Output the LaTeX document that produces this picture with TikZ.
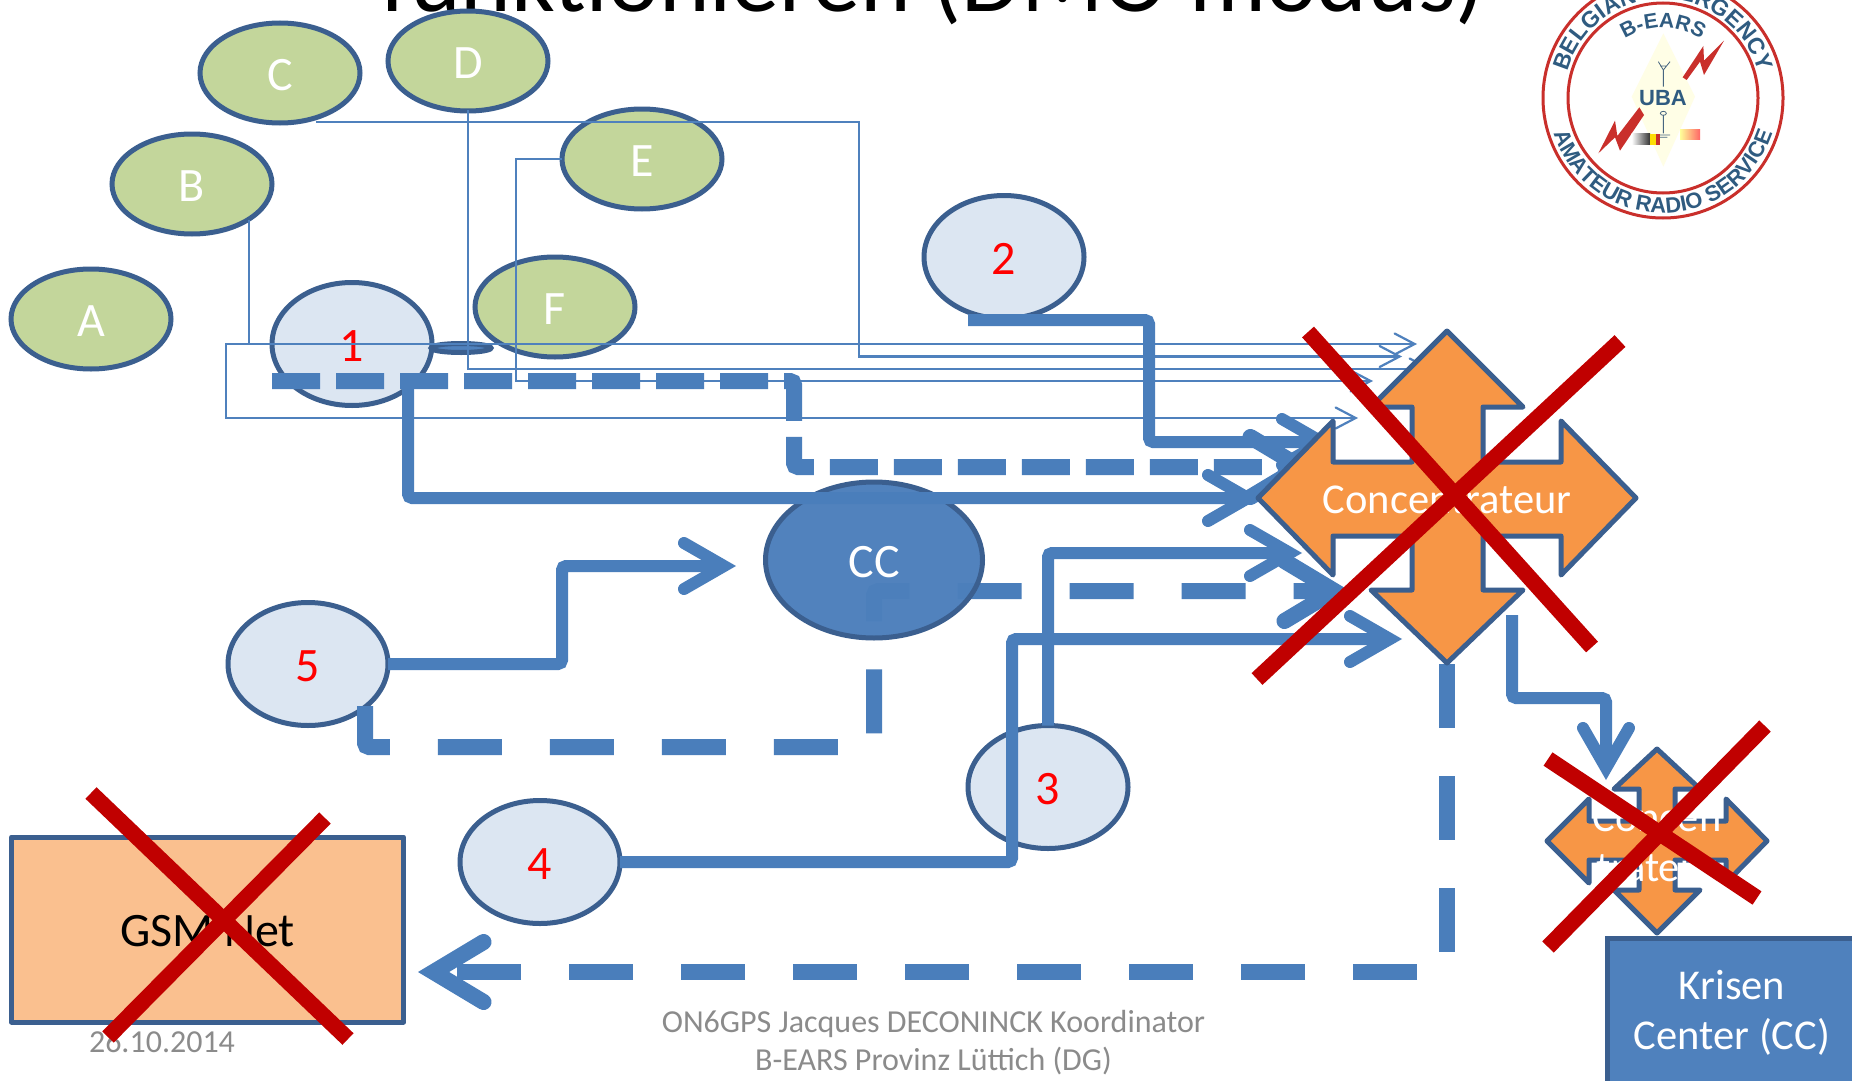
\documentclass[tikz,border=0pt]{standalone}
\usepackage{fontspec}
\setmainfont{Carlito}
\newfontfamily\logofont{Liberation Sans}
\usetikzlibrary{shapes.geometric,arrows.meta,decorations.text}
\definecolor{thinblue}{HTML}{4F81BD}
\definecolor{thickblue}{HTML}{4A7EBB}
\definecolor{edgeblue}{HTML}{3B5F8F}
\definecolor{leaf}{HTML}{C3D69B}
\definecolor{pale}{HTML}{DCE6F2}
\definecolor{ccblue}{HTML}{4D80BC}
\definecolor{boxblue}{HTML}{4F81BD}
\definecolor{starorange}{HTML}{F79646}
\definecolor{gsmorange}{HTML}{FAC08F}
\definecolor{crossred}{HTML}{C00000}
\definecolor{footgrey}{HTML}{8B8B8B}
\definecolor{logoblue}{HTML}{2F5B80}
\definecolor{logored}{HTML}{C92F2B}
\newcommand{\lab}{\fontsize{42.5}{50}\selectfont}
\newcommand{\ovaltext}[1]{\rule{0pt}{35pt}#1}
\tikzset{
  oval/.style={ellipse,draw=edgeblue,line width=5pt,minimum width=160pt,minimum height=100pt,inner sep=0pt,outer sep=0pt,text=white,font=\fontsize{48}{56}\selectfont},
  leafoval/.style={oval,fill=leaf},
  numoval/.style={oval,fill=pale,text=red,minimum height=123pt},
  thinline/.style={draw=thinblue,line width=2.2pt,-{Straight Barb[length=20pt,width=21pt,line cap=round,line join=miter]}},
  thickline/.style={draw=thickblue,line width=12pt,rounded corners=4pt,-{Straight Barb[length=40pt,width=46pt,line cap=round,line join=miter]}},
  dashA/.style={draw=thickblue,line width=16pt,rounded corners=4pt,dash pattern=on 48pt off 16pt,-{Straight Barb[length=50pt,width=60pt,line cap=round,line join=miter]}},
  dashB/.style={draw=thickblue,line width=16pt,rounded corners=4pt,dash pattern=on 64pt off 48pt,-{Straight Barb[length=50pt,width=60pt,line cap=round,line join=miter]}},
  startedge/.style={draw=edgeblue,fill=starorange,line width=5pt,line join=round},
  crossbar/.style={draw=crossred,line width=16pt},
  foot/.style={text=footgrey,font=\fontsize{32}{38}\selectfont,align=center,inner sep=0pt},
  whitetext/.style={text=white,font=\lab,inner sep=0pt,align=center},
}
\begin{document}
\begin{tikzpicture}[x=1pt,y=-1pt]
\useasboundingbox (0,0) rectangle (1852,1081);
\clip (0,0) rectangle (1852,1081);
\fill[white] (0,0) rectangle (1852,1081);

% title
\node[anchor=base,inner sep=0pt,font=\fontsize{96.4}{110}\selectfont] (title) at (933,12) {funktionieren (DMO modus)};

% logo
\begin{scope}[shift={(1500,0)},x=.33333pt,y=-.33333pt]
  \fill[yellow!10!white] (490,100)--(585,290)--(490,500)--(395,290)--cycle;
  \fill[logored] (548,232)--(610,138)--(612,182)--(672,122)--(612,225)--(600,185)--(560,240)--cycle;
  \fill[logored] (295,460)--(345,362)--(352,408)--(418,322)--(432,345)--(360,452)--(345,412)--cycle;
  \draw[logoblue!70!gray,line width=.8pt] (490,210)--(490,260) (475,185)--(490,210)--(510,185) (480,198)--(500,198) (490,345)--(490,400)
     (470,405)--(510,405) (478,412)--(502,412);
  \draw[logoblue!70!gray,line width=.8pt] (490,340) circle[x radius=9,y radius=6];
  \shade[left color=white,right color=black!80] (395,402) rectangle (450,435);
  \fill[yellow!80!orange] (450,402) rectangle (468,435);
  \fill[logored] (468,402) rectangle (480,435);
  \shade[left color=yellow!40!white,right color=red!60!white] (540,388) rectangle (600,420);
\end{scope}
\begin{scope}[shift={(1663,98)},x=1pt,y=1pt]
  \draw[logored,line width=3pt] (0,0) circle[radius=120];
  \draw[logored,line width=3pt] (0,0) circle[radius=95];
  \path[decorate,decoration={text along path,text align=center,text={|\logofont\bfseries\fontsize{23}{23}\selectfont\color{logoblue}|BELGIAN   EMERGENCY}}]
     (200:99) arc[start angle=200,end angle=-20,radius=99];
  \path[decorate,decoration={text along path,text align=center,text={|\logofont\bfseries\fontsize{21}{21}\selectfont\color{logoblue}|B-EARS}}]
     (150:70) arc[start angle=150,end angle=30,radius=70];
  \path[decorate,decoration={text along path,text align=center,text={|\logofont\bfseries\fontsize{22}{22}\selectfont\color{logoblue}|AMATEUR RADIO SERVICE}}]
     (170:115) arc[start angle=170,end angle=370,radius=115];
  \node[inner sep=0pt,text=logoblue,font=\logofont\bfseries\fontsize{22}{22}\selectfont] (uba) at (0,0) {UBA};
\end{scope}

% ovals
\node[leafoval] (A) at (91,319) {\ovaltext{A}};
\node[leafoval] (B) at (192,184) {\ovaltext{B}};
\node[leafoval] (C) at (280,73) {\ovaltext{C}};
\node[leafoval] (D) at (468,61) {\ovaltext{D}};
\node[leafoval] (E) at (642,159) {\ovaltext{E}};
\node[leafoval] (F) at (555,307) {\ovaltext{F}};
\node[numoval] (n1) at (352,344) {\ovaltext{1}};
\node[numoval] (n2) at (1004,257) {\ovaltext{2}};
\node[numoval] (n3) at (1048,787) {\ovaltext{3}};
\node[numoval] (n4) at (540,862) {\ovaltext{4}};
\node[numoval] (n5) at (308,664) {\ovaltext{5}};
\node[ellipse,draw=edgeblue,fill=thinblue,line width=5pt,minimum width=60pt,minimum height=9pt,inner sep=0pt] (link) at (461,348) {};

% GSM box
\node[rectangle,draw=edgeblue,fill=gsmorange,line width=5pt,line join=round,minimum width=392pt,minimum height=185pt,inner sep=0pt,font=\fontsize{48}{56}\selectfont] (gsm) at (207.5,929.5) {\rule{0pt}{34pt}GSM Net};

% free ends
\coordinate (bStart) at (249,220);
\coordinate (cStart) at (316,122);
\coordinate (dStart) at (468,110);
\coordinate (t1) at (1417,344);
\coordinate (t2) at (1402,356.5);
\coordinate (t3) at (1432,369);
\coordinate (t4) at (1373,381);
\coordinate (t5) at (1358,418);
\coordinate (twoStart) at (968,320);
\coordinate (oneSolid) at (408,388);
\coordinate (oneDash) at (272,381);
\coordinate (fiveDash) at (365,706);
\coordinate (starBottom) at (1447,664);
\coordinate (starLow) at (1512,615);
\coordinate (smallTop) at (1606,780);
\coordinate (ccLeft) at (736,566);
\coordinate (gsmRight) at (418,972);
\coordinate (s2end) at (1334,442);
\coordinate (d1end) at (1316,467);
\coordinate (s1end) at (1260,498);
\coordinate (s3end) at (1302,553);
\coordinate (d2end) at (1350,591);
\coordinate (s4end) at (1402,639);

% thin connectors
\draw[thinline] (bStart) -- (249,344) -- (t1);
\draw[thinline] (n1.center) -- (226,344) -- (226,418) -- (t5);
\draw[thinline] (cStart) -- (859,122) -- (859,356.5) -- (t2);
\draw[thinline] (dStart) -- (468,369) -- (t3);
\draw[thinline] (E.west) -- (516,159) -- (516,381) -- (t4);

% dashed behind CC
\draw[dashB] (fiveDash) -- (365,747) -- (874,747) -- (874,591) -- (d2end);

% CC
\node[oval,minimum width=217pt,minimum height=156pt,fill=ccblue,fill opacity=.975,text opacity=1] (cc) at (874,560) {\ovaltext{CC}};

% thick connectors
\draw[thickline] (twoStart) -- (1149,320) -- (1149,442) -- (s2end);
\draw[dashA] (oneDash) -- (794,381) -- (794,467) -- (d1end);
\draw[thickline] (oneSolid) -- (408,498) -- (s1end);
\draw[thickline] (n3.north) -- (1048,553) -- (s3end);
\draw[thickline] (n4.east) -- (1012,862) -- (1012,639) -- (s4end);
\draw[thickline] (n5.east) -- (562,664) -- (562,566) -- (ccLeft);
\draw[dashB] (starBottom) -- (1447,972) -- (gsmRight);
\draw[thickline] (starLow) -- (1512,698) -- (1606,698) -- (smallTop);

% big star
\path[startedge] (1447,331)--(1523,407)--(1483,407)--(1483,462)--(1561,462)--(1561,421)--(1636,498)--(1561,575)--(1561,536)--(1483,536)--(1483,590)--(1523,590)--(1447,663)--(1371,590)--(1412,590)--(1412,536)--(1333,536)--(1333,575)--(1258,498)--(1333,421)--(1333,462)--(1412,462)--(1412,407)--(1371,407)--cycle;
\node[whitetext] (conc) at (1447,500) {Concentrateur};

% small star
\path[startedge] (1657,749)--(1700,789)--(1675,789)--(1675,821)--(1726,821)--(1726,799)--(1767,841)--(1726,883)--(1726,860)--(1675,860)--(1675,890)--(1700,890)--(1657,933)--(1614,890)--(1639,890)--(1639,860)--(1589,860)--(1589,883)--(1547,841)--(1589,799)--(1589,821)--(1639,821)--(1639,789)--(1614,789)--cycle;
\node[whitetext] (conc2) at (1657,843) {Concen\\trateur};

% Krisen box
\node[rectangle,draw=edgeblue,fill=boxblue,line width=5pt,anchor=north west,minimum width=300pt,minimum height=200pt,inner sep=0pt,outer sep=0pt] (krisen) at (1607,938) {};
\node[whitetext] (kris1) at (1732,985) {Krisen};
\node[whitetext] (kris2) at (1732,1037) {Center (CC)};

% footer
\node[foot] (date) at (162,1042) {26.10.2014};
\node[foot] (by) at (933.5,1043) {ON6GPS Jacques DECONINCK Koordinator\\B-EARS Provinz Lüttich (DG)};

% red crosses
\draw[crossbar] (1308,332) -- (1592,647);
\draw[crossbar] (1620,341) -- (1257,679);
\draw[crossbar] (1548,759) -- (1757,898);
\draw[crossbar] (1765,726) -- (1548,947);
\draw[crossbar] (91,793) -- (348,1039);
\draw[crossbar] (325,818) -- (108,1037);
\end{tikzpicture}
\end{document}
